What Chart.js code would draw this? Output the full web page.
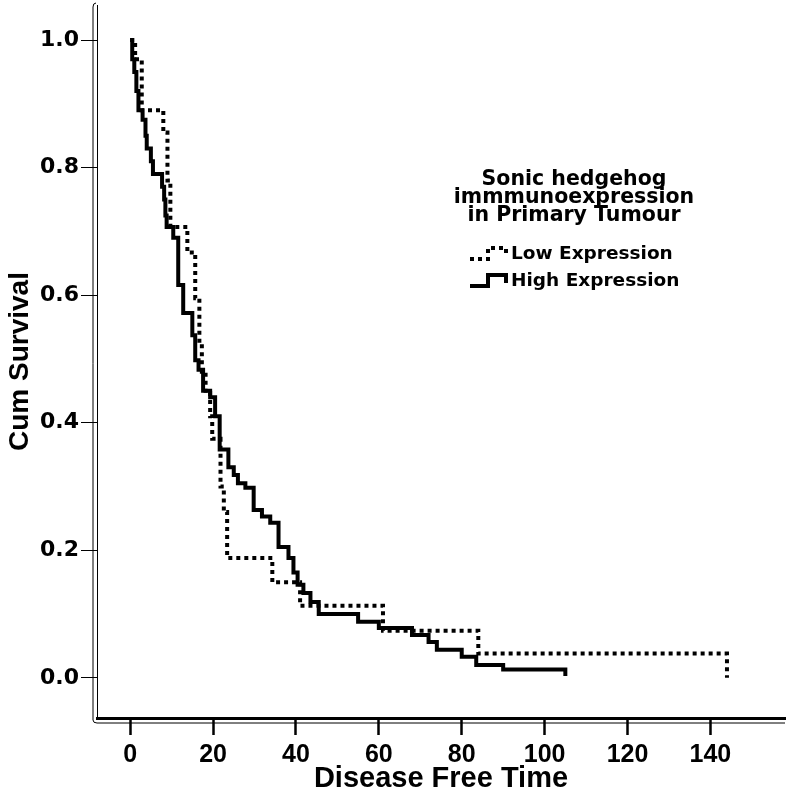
<!DOCTYPE html>
<html lang="en">

<head>
  <meta charset="UTF-8">
  <title>Disease Free Survival</title>
  <style>
    body {
      margin: 0;
      background: #fff;
    }

    #wrap {
      width: 789px;
      height: 793px;
    }
  </style>
  <script src="https://cdn.jsdelivr.net/npm/chart.js@4.4.4/dist/chart.umd.js"></script>
</head>

<body>
  <div id="wrap">
    <canvas id="chart_1"></canvas>
  </div>
</body>
<script>
  // Kaplan-Meier steps: time of each drop and survival after it
  const lowTime = [0, 1.2, 2.8, 8.0, 9.0, 9.7, 13.8, 15.7, 16.7, 17.3, 18.2, 19.3, 19.8, 21.8, 22.6, 23.4, 34.3, 41.0, 61.0, 84.0, 144.0];
  const lowSurv = [1.0, 0.97, 0.89, 0.855, 0.78, 0.707, 0.667, 0.595, 0.525, 0.48, 0.447, 0.41, 0.375, 0.30, 0.26, 0.188, 0.15, 0.113, 0.074, 0.038, 0.0];

  const highTime = [0, 0.5, 1.0, 1.5, 2.0, 3.0, 3.7, 4.0, 5.0, 5.5, 7.7, 8.2, 8.5, 8.8, 10.4, 11.6, 12.8, 15.0, 15.7, 16.5, 17.6, 19.3, 20.5, 21.6, 23.7, 25.0, 26.0, 27.8, 29.8, 31.8, 33.8, 35.8, 38.2, 39.4, 40.4, 41.8, 43.5, 45.5, 55.0, 60.0, 68.0, 72.0, 74.0, 80.0, 83.5, 90.0, 105.0];
  const highSurv = [1.0, 0.97, 0.95, 0.92, 0.89, 0.875, 0.85, 0.83, 0.81, 0.79, 0.77, 0.75, 0.725, 0.707, 0.69, 0.616, 0.572, 0.537, 0.498, 0.483, 0.45, 0.44, 0.41, 0.358, 0.33, 0.318, 0.305, 0.298, 0.263, 0.253, 0.243, 0.205, 0.188, 0.165, 0.146, 0.133, 0.119, 0.10, 0.088, 0.078, 0.067, 0.056, 0.044, 0.033, 0.020, 0.013, 0.003];

  const xTicks = [0, 20, 40, 60, 80, 100, 120, 140];
  const yTicks = [0.0, 0.2, 0.4, 0.6, 0.8, 1.0];

  const seriesNames = ['Low Expression', 'High Expression'];
  const legendTitle = ['Sonic hedgehog', 'immmunoexpression', 'in Primary Tumour'];

  function toPoints(times, values) {
    return times.map((t, i) => ({ x: t, y: values[i] }));
  }

  function noEdgePadding(s) {
    s.paddingTop = 0;
    s.paddingBottom = 0;
    s.paddingLeft = 0;
    s.paddingRight = 0;
  }

  // second line of the double axis frame + the boxed legend
  const framePlugin = {
    id: 'frame',
    afterDraw(chart) {
      const { ctx, chartArea: a } = chart;
      ctx.save();
      ctx.strokeStyle = '#000';
      ctx.lineWidth = 1;
      ctx.beginPath();
      ctx.moveTo(a.left - 4, a.top + 2);
      ctx.quadraticCurveTo(a.left - 4, a.top - 2, a.left - 1, a.top - 2);
      ctx.moveTo(a.left - 4, a.top + 2);
      ctx.lineTo(a.left - 4, a.bottom + 2);
      ctx.quadraticCurveTo(a.left - 4, a.bottom + 5, a.left, a.bottom + 5);
      ctx.lineTo(a.right, a.bottom + 5);
      ctx.stroke();

      // legend
      const cx = 574;
      ctx.fillStyle = '#000';
      ctx.textAlign = 'center';
      ctx.textBaseline = 'middle';
      ctx.font = 'bold 20.5px "DejaVu Sans"';
      legendTitle.forEach((line, i) => ctx.fillText(line, cx, 180 + i * 18));

      ctx.font = 'bold 18.5px "DejaVu Sans"';
      ctx.textAlign = 'left';
      const rows = [254, 281];
      chart.data.datasets.forEach((ds, i) => {
        const y = rows[i];
        ctx.lineWidth = ds.borderWidth;
        ctx.setLineDash(ds.borderDash || []);
        ctx.beginPath();
        ctx.moveTo(470, y + 5);
        ctx.lineTo(488, y + 5);
        ctx.lineTo(488, y - 6);
        ctx.lineTo(506, y - 6);
        ctx.lineTo(506, y + 2);
        ctx.stroke();
        ctx.setLineDash([]);
        ctx.fillText(ds.label, 511, y);
      });
      ctx.restore();
    }
  };

  new Chart('chart_1', {
    type: 'scatter',
    data: {
      datasets: [{
        label: seriesNames[0],
        data: toPoints(lowTime, lowSurv),
        borderColor: '#000',
        borderWidth: 4,
        borderDash: [4, 4],
        borderCapStyle: 'butt',
        showLine: true,
        stepped: 'before',
        pointRadius: 0
      },
      {
        label: seriesNames[1],
        data: toPoints(highTime, highSurv),
        borderColor: '#000',
        borderWidth: 4,
        showLine: true,
        stepped: 'before',
        pointRadius: 0
      }]
    },
    options: {
      responsive: true,
      maintainAspectRatio: false,
      animation: false,
      layout: { padding: { top: 5, right: 4, left: 0, bottom: 0 } },
      plugins: {
        legend: { display: false },
        tooltip: { enabled: false }
      },
      scales: {
        x: {
          type: 'linear',
          min: -8,
          max: 158,
          afterBuildTicks: s => { s.ticks = xTicks.map(v => ({ value: v })); },
          afterFit: s => { s.height = 75; noEdgePadding(s); },
          border: { display: true, color: '#000', width: 3 },
          grid: { drawOnChartArea: false, tickLength: 17, tickWidth: 2.5, tickColor: '#000' },
          ticks: {
            color: '#000',
            padding: 5,
            maxRotation: 0,
            font: { family: "'Liberation Sans', Arial, sans-serif", weight: 'bold', size: 25 }
          },
          title: {
            display: true,
            text: 'Disease Free Time',
            color: '#000',
            padding: { top: 0, bottom: 0 },
            font: { family: "'Liberation Sans', Arial, sans-serif", weight: 'bold', size: 29, lineHeight: 1 }
          }
        },
        y: {
          type: 'linear',
          min: -0.063,
          max: 1.055,
          afterBuildTicks: s => { s.ticks = yTicks.map(v => ({ value: v })); },
          afterFit: s => { s.width = 97; noEdgePadding(s); },
          border: { display: true, color: '#000', width: 1 },
          grid: { drawOnChartArea: false, tickLength: 16, tickWidth: 1, tickColor: '#000' },
          ticks: {
            color: '#000',
            padding: 2,
            callback: v => v.toFixed(1),
            font: { family: "'DejaVu Sans', sans-serif", weight: 'bold', size: 22 }
          },
          title: {
            display: true,
            text: 'Cum Survival',
            color: '#000',
            padding: { top: 6, bottom: 0 },
            font: { family: "'Liberation Sans', Arial, sans-serif", weight: 'bold', size: 28, lineHeight: 1 }
          }
        }
      }
    },
    plugins: [framePlugin]
  });
</script>

</html>
